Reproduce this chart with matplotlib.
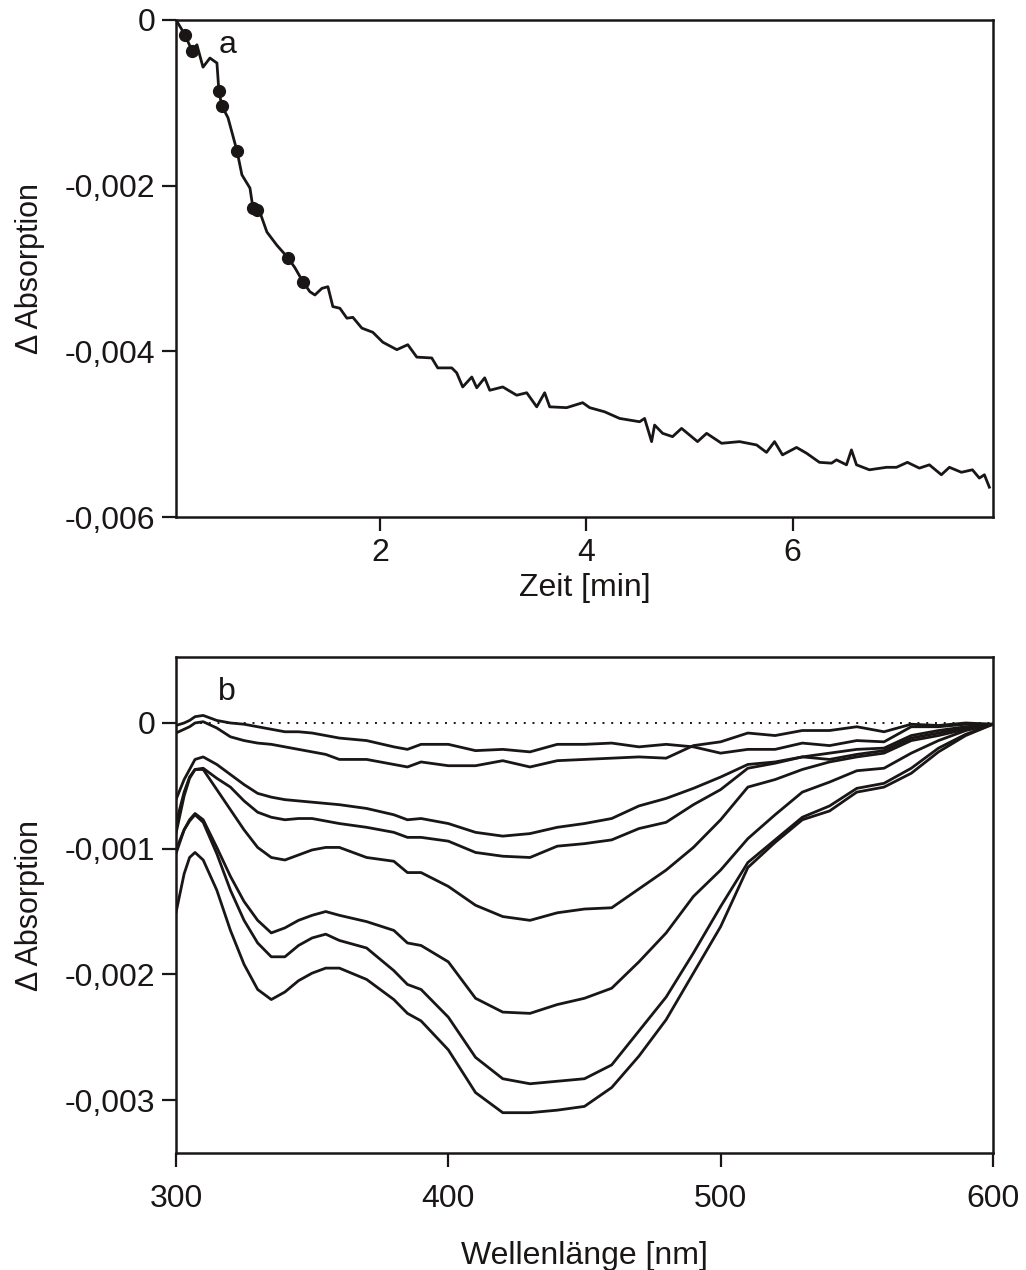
import matplotlib
matplotlib.use('Agg')
import matplotlib.pyplot as plt
from matplotlib.ticker import FuncFormatter
import numpy as np

plt.rcParams['font.family'] = ['Liberation Sans', 'DejaVu Sans']

# --- panel a: kinetics trace (values in units of 1e-3) ---
zeit = [0.025, 0.035, 0.074, 0.112, 0.180, 0.228, 0.287, 0.354, 0.422, 0.441,
        0.470, 0.529, 0.616, 0.664, 0.742, 0.771, 0.838, 0.906, 1.003, 1.109,
        1.177, 1.255, 1.322, 1.371, 1.439, 1.497, 1.545, 1.613, 1.681, 1.739,
        1.826, 1.932, 2.029, 2.165, 2.271, 2.358, 2.503, 2.561, 2.697, 2.745,
        2.803, 2.891, 2.939, 3.016, 3.065, 3.191, 3.326, 3.423, 3.520, 3.597,
        3.646, 3.810, 3.965, 4.033, 4.178, 4.323, 4.517, 4.565, 4.633, 4.662,
        4.740, 4.836, 4.923, 5.078, 5.166, 5.311, 5.485, 5.650, 5.746, 5.824,
        5.901, 6.037, 6.134, 6.259, 6.376, 6.424, 6.521, 6.569, 6.618, 6.743,
        6.908, 7.005, 7.111, 7.227, 7.324, 7.440, 7.518, 7.634, 7.741, 7.808,
        7.857, 7.905]
d_abs = [0.0, -0.02, -0.10, -0.18, -0.37, -0.30, -0.57, -0.46, -0.52, -0.86,
         -1.04, -1.18, -1.58, -1.87, -2.03, -2.27, -2.32, -2.56, -2.72, -2.87,
         -2.99, -3.16, -3.28, -3.32, -3.24, -3.22, -3.46, -3.48, -3.60, -3.59,
         -3.72, -3.77, -3.89, -3.98, -3.92, -4.07, -4.08, -4.20, -4.20, -4.26,
         -4.43, -4.31, -4.44, -4.32, -4.47, -4.43, -4.53, -4.50, -4.67, -4.50,
         -4.67, -4.68, -4.62, -4.68, -4.73, -4.81, -4.85, -4.81, -5.09, -4.89,
         -4.99, -5.03, -4.93, -5.09, -4.99, -5.11, -5.09, -5.13, -5.22, -5.09,
         -5.25, -5.16, -5.23, -5.34, -5.35, -5.31, -5.37, -5.19, -5.37, -5.43,
         -5.40, -5.40, -5.34, -5.41, -5.37, -5.49, -5.40, -5.46, -5.43, -5.53,
         -5.49, -5.64]

# times at which spectra were taken (dots on the trace)
punkt_zeit = [0.112, 0.180, 0.441, 0.470, 0.616, 0.771, 0.81, 1.109, 1.255]
punkt_abs = [-0.18, -0.37, -0.86, -1.04, -1.58, -2.27, -2.30, -2.87, -3.16]

# --- panel b: difference spectra (values in units of 1e-3) ---
wl = [300, 303, 305, 307, 310, 315, 320, 325, 330, 335, 340, 345, 350, 355, 360,
      370, 380, 385, 390, 400, 410, 420, 430, 440, 450, 460, 470, 480, 490, 500,
      510, 520, 530, 540, 550, 560, 570, 580, 590, 600]

spek1 = [-0.02, 0.00, 0.02, 0.05, 0.06, 0.02, 0.00, -0.01, -0.03, -0.05, -0.07, -0.07,
         -0.08, -0.10, -0.12, -0.14, -0.19, -0.21, -0.17, -0.17, -0.22, -0.21, -0.23,
         -0.17, -0.17, -0.16, -0.19, -0.17, -0.19, -0.24, -0.21, -0.21, -0.16, -0.18,
         -0.14, -0.15, -0.03, -0.03, -0.01, -0.01]
spek2 = [-0.08, -0.05, -0.03, 0.00, 0.01, -0.04, -0.11, -0.14, -0.16, -0.17, -0.19,
         -0.21, -0.23, -0.25, -0.29, -0.29, -0.33, -0.35, -0.31, -0.34, -0.34, -0.30,
         -0.35, -0.30, -0.29, -0.28, -0.27, -0.28, -0.18, -0.15, -0.08, -0.10, -0.06,
         -0.06, -0.03, -0.07, -0.01, -0.02, 0.00, -0.01]
spek3 = [-0.61, -0.45, -0.37, -0.29, -0.27, -0.33, -0.41, -0.49, -0.56, -0.59, -0.61,
         -0.62, -0.63, -0.64, -0.65, -0.68, -0.73, -0.77, -0.76, -0.80, -0.87, -0.90,
         -0.88, -0.83, -0.80, -0.76, -0.66, -0.60, -0.52, -0.43, -0.33, -0.31, -0.27,
         -0.24, -0.21, -0.20, -0.10, -0.06, -0.03, -0.01]
spek4 = [-0.80, -0.55, -0.43, -0.37, -0.36, -0.44, -0.51, -0.62, -0.71, -0.75, -0.77,
         -0.76, -0.76, -0.78, -0.80, -0.83, -0.87, -0.91, -0.91, -0.94, -1.03, -1.06,
         -1.07, -0.98, -0.96, -0.93, -0.84, -0.79, -0.65, -0.53, -0.36, -0.32, -0.27,
         -0.29, -0.25, -0.22, -0.12, -0.08, -0.04, -0.01]
spek5 = [-0.88, -0.58, -0.44, -0.37, -0.37, -0.53, -0.69, -0.85, -0.99, -1.07, -1.09,
         -1.05, -1.01, -0.99, -0.99, -1.07, -1.10, -1.19, -1.19, -1.30, -1.45, -1.54,
         -1.57, -1.51, -1.48, -1.47, -1.32, -1.17, -0.99, -0.77, -0.51, -0.45, -0.37,
         -0.31, -0.27, -0.24, -0.14, -0.10, -0.05, -0.01]
spek6 = [-1.01, -0.85, -0.77, -0.72, -0.77, -0.99, -1.22, -1.42, -1.57, -1.67, -1.63,
         -1.57, -1.53, -1.50, -1.53, -1.58, -1.65, -1.75, -1.77, -1.90, -2.19, -2.30,
         -2.31, -2.24, -2.19, -2.11, -1.90, -1.67, -1.38, -1.17, -0.92, -0.73, -0.55,
         -0.47, -0.38, -0.36, -0.24, -0.14, -0.06, -0.01]
spek7 = [-1.04, -0.85, -0.78, -0.73, -0.79, -1.04, -1.33, -1.57, -1.75, -1.86, -1.86,
         -1.77, -1.71, -1.68, -1.73, -1.79, -1.97, -2.08, -2.12, -2.34, -2.66, -2.83,
         -2.87, -2.85, -2.83, -2.72, -2.45, -2.18, -1.83, -1.46, -1.11, -0.93, -0.75,
         -0.66, -0.52, -0.48, -0.36, -0.20, -0.09, -0.01]
spek8 = [-1.51, -1.20, -1.07, -1.03, -1.09, -1.33, -1.65, -1.92, -2.12, -2.20, -2.14,
         -2.05, -1.99, -1.95, -1.95, -2.04, -2.20, -2.31, -2.37, -2.60, -2.94, -3.10,
         -3.10, -3.08, -3.05, -2.90, -2.65, -2.36, -1.99, -1.62, -1.15, -0.95, -0.77,
         -0.70, -0.55, -0.51, -0.40, -0.23, -0.10, -0.01]
spektren = [spek1, spek2, spek3, spek4, spek5, spek6, spek7, spek8]

FS = 23
LC = '#1a1616'


def komma(v, pos):
    if abs(v) < 1e-12:
        return '0'
    return f'{v:.3f}'.replace('.', ',')


def style_axes(ax):
    for s in ax.spines.values():
        s.set_linewidth(1.8)
        s.set_color(LC)
    ax.tick_params(direction='out', length=10, width=1.6, labelsize=FS,
                   colors=LC, pad=5)
    ax.yaxis.set_major_formatter(FuncFormatter(komma))


fig = plt.figure(figsize=(10.26, 12.70), dpi=100)

# panel a
ax1 = fig.add_axes([0.1715, 0.5929, 0.7963, 0.3914])
ax1.plot(zeit, np.array(d_abs) * 1e-3, color=LC, lw=2.0, solid_joinstyle='round')
ax1.plot(punkt_zeit, np.array(punkt_abs) * 1e-3, 'o', color=LC, ms=8.5)
ax1.set_xlim(0.025, 7.94)
ax1.set_ylim(-0.006, 0)
ax1.set_xticks([2, 4, 6])
ax1.set_yticks([0, -0.002, -0.004, -0.006])
style_axes(ax1)
ax1.set_xlabel('Zeit [min]', fontsize=FS, color=LC, labelpad=4)
ax1.set_ylabel('\u0394 Absorption', fontsize=22, color=LC, labelpad=14)
ax1.text(0.052, 0.95, 'a', transform=ax1.transAxes, fontsize=FS, color=LC,
         ha='left', va='center')

# panel b
ax2 = fig.add_axes([0.1715, 0.0921, 0.7963, 0.3906])
ax2.axhline(0, xmin=0.03, xmax=1, color=LC, lw=1.4, ls=(0, (1, 3.5)))
for sp in spektren:
    ax2.plot(wl, np.array(sp) * 1e-3, color=LC, lw=2.0, solid_joinstyle='round')
ax2.set_xlim(300, 600)
ax2.set_ylim(-0.003421, 0.000525)
ax2.set_xticks([300, 400, 500, 600])
ax2.set_yticks([0, -0.001, -0.002, -0.003])
style_axes(ax2)
ax2.tick_params(axis='x', pad=12)
ax2.set_xlabel('Wellenlänge [nm]', fontsize=FS, color=LC, labelpad=20)
ax2.set_ylabel('\u0394 Absorption', fontsize=22, color=LC, labelpad=14)
ax2.text(0.052, 0.93, 'b', transform=ax2.transAxes, fontsize=FS, color=LC,
         ha='left', va='center')

fig.savefig('out.png', dpi=100)
